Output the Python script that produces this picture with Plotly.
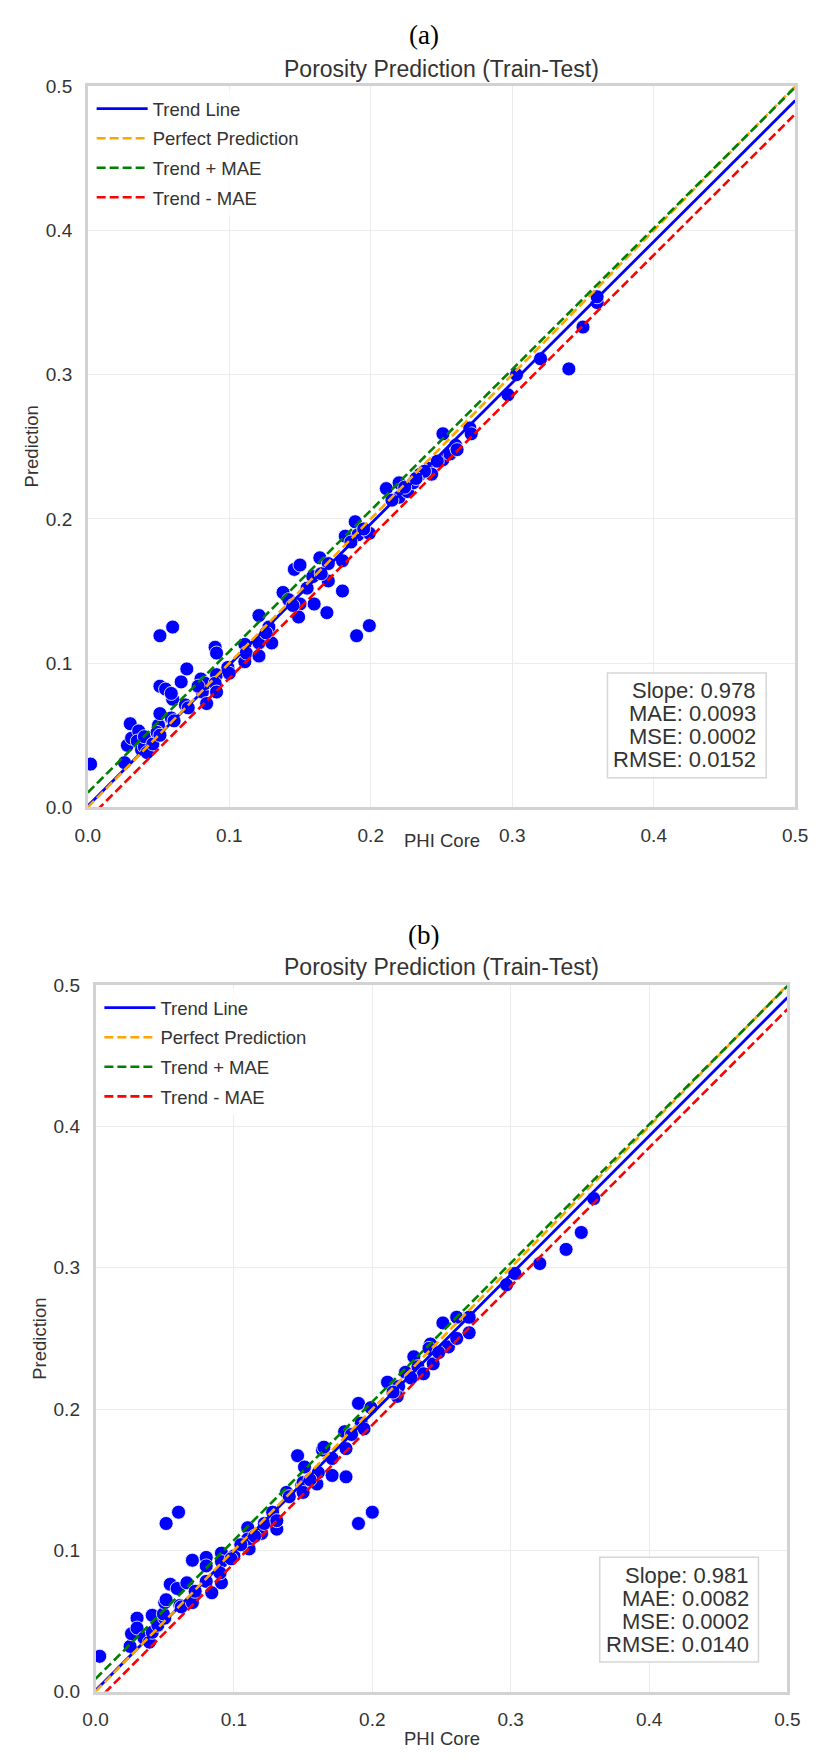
import plotly.graph_objects as go

# ---------------- data ----------------
phi_core_a = [0.002, 0.026, 0.030, 0.028, 0.031, 0.036, 0.035, 0.038, 0.040, 0.042,
              0.040, 0.046, 0.050, 0.051, 0.049, 0.051, 0.051, 0.055, 0.051, 0.060,
              0.060, 0.059, 0.059, 0.061, 0.066, 0.070, 0.069, 0.071, 0.080, 0.081,
              0.084, 0.083, 0.078, 0.090, 0.091, 0.091, 0.090, 0.091, 0.099, 0.100,
              0.111, 0.111, 0.112, 0.121, 0.121, 0.121, 0.128, 0.130, 0.126, 0.138,
              0.142, 0.146, 0.150, 0.150, 0.149, 0.160, 0.159, 0.164, 0.169, 0.170,
              0.170, 0.180, 0.180, 0.182, 0.190, 0.189, 0.191, 0.199, 0.199, 0.211,
              0.220, 0.220, 0.226, 0.230, 0.235, 0.241, 0.243, 0.251, 0.251, 0.256,
              0.260, 0.261, 0.270, 0.271, 0.297, 0.303, 0.320, 0.340, 0.350, 0.360,
              0.360, 0.215, 0.224, 0.238, 0.247, 0.232, 0.165, 0.155, 0.145, 0.186,
              0.195]
pred_a = [0.030, 0.031, 0.058, 0.043, 0.048, 0.053, 0.046, 0.040, 0.042, 0.038,
          0.049, 0.044, 0.057, 0.065, 0.052, 0.050, 0.084, 0.082, 0.119, 0.125,
          0.075, 0.079, 0.062, 0.060, 0.087, 0.096, 0.071, 0.069, 0.089, 0.080,
          0.072, 0.086, 0.084, 0.111, 0.107, 0.092, 0.086, 0.080, 0.097, 0.093,
          0.113, 0.101, 0.107, 0.133, 0.114, 0.105, 0.125, 0.114, 0.121, 0.149,
          0.144, 0.165, 0.168, 0.141, 0.132, 0.141, 0.160, 0.173, 0.135, 0.169,
          0.157, 0.150, 0.171, 0.188, 0.119, 0.198, 0.189, 0.126, 0.190, 0.221,
          0.225, 0.215, 0.219, 0.225, 0.231, 0.235, 0.231, 0.259, 0.241, 0.245,
          0.251, 0.248, 0.263, 0.259, 0.286, 0.300, 0.311, 0.304, 0.333, 0.350,
          0.354, 0.213, 0.222, 0.233, 0.240, 0.228, 0.162, 0.152, 0.140, 0.184,
          0.193]

phi_core_b = [0.003, 0.025, 0.026, 0.030, 0.030, 0.035, 0.039, 0.041, 0.041, 0.045,
              0.050, 0.049, 0.050, 0.051, 0.051, 0.060, 0.054, 0.059, 0.061, 0.062,
              0.066, 0.070, 0.070, 0.072, 0.080, 0.080, 0.080, 0.084, 0.091, 0.091,
              0.091, 0.090, 0.100, 0.098, 0.110, 0.111, 0.110, 0.120, 0.122, 0.128,
              0.131, 0.131, 0.138, 0.146, 0.149, 0.150, 0.151, 0.150, 0.160, 0.161,
              0.164, 0.165, 0.171, 0.171, 0.181, 0.180, 0.181, 0.190, 0.190, 0.192,
              0.194, 0.200, 0.199, 0.211, 0.219, 0.218, 0.224, 0.230, 0.233, 0.237,
              0.242, 0.241, 0.244, 0.251, 0.255, 0.261, 0.261, 0.270, 0.270, 0.297,
              0.303, 0.321, 0.340, 0.351, 0.360, 0.215, 0.228, 0.248, 0.140, 0.155,
              0.185, 0.105, 0.115]
pred_b = [0.025, 0.032, 0.041, 0.052, 0.045, 0.038, 0.035, 0.042, 0.054, 0.047,
          0.052, 0.055, 0.063, 0.065, 0.119, 0.127, 0.076, 0.073, 0.061, 0.060,
          0.077, 0.063, 0.093, 0.071, 0.095, 0.089, 0.078, 0.070, 0.098, 0.092,
          0.077, 0.084, 0.096, 0.094, 0.116, 0.101, 0.108, 0.112, 0.119, 0.127,
          0.115, 0.121, 0.141, 0.167, 0.146, 0.148, 0.159, 0.141, 0.147, 0.155,
          0.171, 0.173, 0.153, 0.165, 0.152, 0.184, 0.172, 0.204, 0.119, 0.190,
          0.186, 0.127, 0.201, 0.219, 0.216, 0.209, 0.226, 0.237, 0.230, 0.225,
          0.246, 0.243, 0.232, 0.261, 0.244, 0.265, 0.250, 0.265, 0.254, 0.288,
          0.296, 0.303, 0.313, 0.325, 0.349, 0.212, 0.222, 0.240, 0.138, 0.150,
          0.182, 0.104, 0.110]

slope = {"a": 0.978, "b": 0.981}
intercept = {"a": 0.0010, "b": 0.0008}
mae = {"a": 0.0093, "b": 0.0082}
mse = {"a": 0.0002, "b": 0.0002}
rmse = {"a": 0.0152, "b": 0.0140}
line_x = [0.0, 0.5]
tick_vals = [0.0, 0.1, 0.2, 0.3, 0.4, 0.5]
panel_labels = {"a": "(a)", "b": "(b)"}
chart_title = "Porosity Prediction (Train-Test)"

# ---------------- layout geometry (window pixels) ----------------
# The page body keeps the browser's default 8px margin, so the figure is
# 16px smaller than the window and every position is shifted by OFF.
WIN_W, WIN_H, OFF = 823, 1761, 8
W, H = WIN_W - 2 * OFF, WIN_H - 2 * OFF
panels = {
    "a": dict(x0=77, x1=808, y0=77, y1=807, lab_y=25, title_y=60, xt_y=841, yt_x=19),
    "b": dict(x0=85, x1=800, y0=987, y1=1702, lab_y=936, title_y=969, xt_y=1749, yt_x=27),
}

def px(x):
    return (x - OFF) / W

def py(y):
    return 1 - (y - OFF) / H

SANS = "Liberation Sans, Arial, sans-serif"
TXT = "#333333"

fig = go.Figure()
annotations = []
shapes = []

for i, key in enumerate(["a", "b"]):
    g = panels[key]
    xa = "x" if i == 0 else "x2"
    ya = "y" if i == 0 else "y2"
    xs = phi_core_a if key == "a" else phi_core_b
    ys = pred_a if key == "a" else pred_b
    fig.add_trace(go.Scatter(
        x=xs, y=ys, mode="markers", xaxis=xa, yaxis=ya, showlegend=False,
        marker=dict(size=14, color="#0000ff", line=dict(color="white", width=0.8)),
    ))
    s, b, m = slope[key], intercept[key], mae[key]
    trend = [s * v + b for v in line_x]
    specs = [
        ("Trend Line", trend, "#0000ff", "solid"),
        ("Perfect Prediction", line_x, "#ffa500", "9px,4px"),
        ("Trend + MAE", [t + m for t in trend], "#008000", "9px,4px"),
        ("Trend - MAE", [t - m for t in trend], "#ff0000", "9px,4px"),
    ]
    for name, yy, col, dash in specs:
        fig.add_trace(go.Scatter(
            x=line_x, y=yy, mode="lines", name=name, xaxis=xa, yaxis=ya,
            legend="legend" if key == "a" else "legend2", legendgroup=name + key,
            line=dict(color=col, width=2.8 if dash == "solid" else 2.6, dash=dash),
        ))

    cx = (g["x0"] + g["x1"]) / 2
    cy = (g["y0"] + g["y1"]) / 2
    annotations += [
        dict(text=panel_labels[key], x=px(424), y=py(g["lab_y"]), xref="paper", yref="paper",
             showarrow=False, font=dict(family="Liberation Serif, Times New Roman, serif", size=27, color="black"),
             xanchor="center", yanchor="middle"),
        dict(text=chart_title, x=px(cx), y=py(g["title_y"]), xref="paper", yref="paper",
             showarrow=False, font=dict(family=SANS, size=23, color=TXT), xanchor="center", yanchor="middle"),
        dict(text="PHI Core", x=px(cx), y=py(g["xt_y"]), xref="paper", yref="paper",
             showarrow=False, font=dict(family=SANS, size=18.5, color=TXT), xanchor="center", yanchor="middle"),
        dict(text="Prediction", x=px(g["yt_x"]), y=py(cy), xref="paper", yref="paper", textangle=-90,
             showarrow=False, font=dict(family=SANS, size=18.5, color=TXT), xanchor="center", yanchor="middle"),
    ]
    # stats box
    bx1 = g["x1"] - 30
    by1 = g["y1"] - 30
    bx0 = bx1 - 164
    by0 = by1 - 106
    shapes.append(dict(type="rect", xref="paper", yref="paper", x0=px(bx0), x1=px(bx1),
                       y0=py(by1), y1=py(by0), line=dict(color="#d6d6d6", width=1.5),
                       fillcolor="rgba(255,255,255,0.85)", layer="above"))
    stats = [f"Slope: {slope[key]:.3f}", f"MAE: {mae[key]:.4f}", f"MSE: {mse[key]:.4f}", f"RMSE: {rmse[key]:.4f}"]
    for j, t in enumerate(stats):
        annotations.append(dict(text=t, x=px(bx1 - 8), y=py(by0 + 18 + 23.3 * j), xref="paper", yref="paper",
                                showarrow=False, xanchor="right", yanchor="middle",
                                font=dict(family=SANS, size=22, color=TXT)))

def axis(domain, anchor):
    return dict(domain=domain, anchor=anchor, range=[0, 0.5], tickvals=tick_vals, tickformat=".1f",
                showgrid=True, gridcolor="#ececec", gridwidth=1, zeroline=False,
                showline=True, linecolor="#d2d2d2", linewidth=2.5, mirror=True,
                ticks="outside", ticklen=9, tickcolor="rgba(0,0,0,0)",
                tickfont=dict(family=SANS, size=19, color=TXT), fixedrange=True)

ga, gb = panels["a"], panels["b"]
legend_common = dict(font=dict(family=SANS, size=18.5, color=TXT), bgcolor="rgba(255,255,255,0.8)",
                     borderwidth=0, tracegroupgap=2.5, itemwidth=51, xanchor="left", yanchor="top",
                     xref="paper", yref="paper")
fig.update_layout(
    width=W, height=H, autosize=False,
    margin=dict(l=0, r=0, t=0, b=0),
    paper_bgcolor="white", plot_bgcolor="white",
    xaxis=axis([px(ga["x0"]), px(ga["x1"])], "y"),
    yaxis=axis([py(ga["y1"]), py(ga["y0"])], "x"),
    xaxis2=axis([px(gb["x0"]), px(gb["x1"])], "y2"),
    yaxis2=axis([py(gb["y1"]), py(gb["y0"])], "x2"),
    legend=dict(x=px(ga["x0"] + 4), y=py(ga["y0"] + 4), **legend_common),
    legend2=dict(x=px(gb["x0"] + 4), y=py(gb["y0"] + 4), **legend_common),
    annotations=annotations, shapes=shapes,
)

fig.write_html("out.html", config={"displayModeBar": False})
